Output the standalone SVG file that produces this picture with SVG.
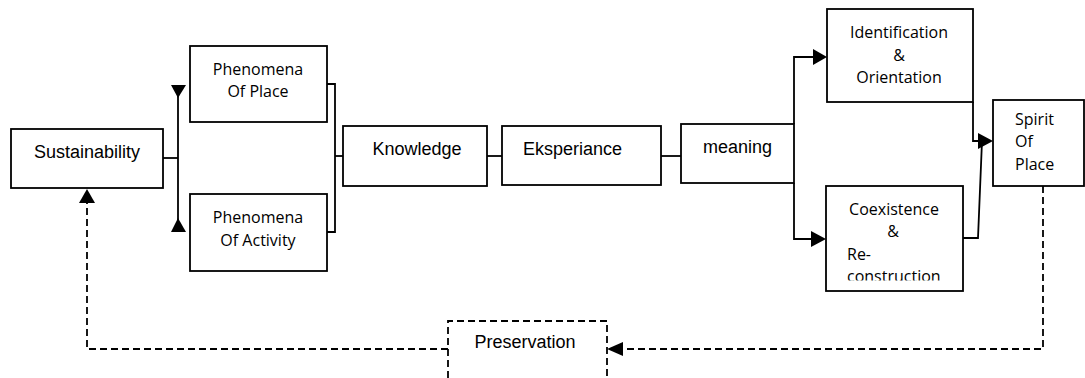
<svg xmlns="http://www.w3.org/2000/svg" width="1085" height="378" viewBox="0 0 1085 378">
<style>
.box{fill:#fff;stroke:#000;stroke-width:1.8}
.dbox{fill:none;stroke:#000;stroke-width:1.8;stroke-dasharray:7,4}
.ln{fill:none;stroke:#000;stroke-width:1.8}
.dl{fill:none;stroke:#000;stroke-width:1.8;stroke-dasharray:7,4}
.ah{fill:#000;stroke:none}
.a{font-family:"Liberation Sans",Arial,sans-serif;font-size:18px;fill:#000}
.c{font-family:"Open Sans","Noto Sans",sans-serif;font-size:16px;fill:#000}
</style>
<defs>
<clipPath id="cclip"><rect x="826" y="186" width="137" height="94.5"/></clipPath>
</defs>
<g id="connectors">
<path class="ln" d="M163,158 H178"/>
<path class="ln" d="M178,85 V232"/>
<polygon class="ah" points="171,85 186,85 178,98"/>
<polygon class="ah" points="171,232 186,232 178,218"/>
<path class="ln" d="M327,84 H335 V232 H327"/>
<path class="ln" d="M335,156 H343"/>
<path class="ln" d="M487,156 H502"/>
<path class="ln" d="M661,156 H681"/>
<path class="ln" d="M794,124 V57 H814"/>
<polygon class="ah" points="813,49 827,57 813,65"/>
<path class="ln" d="M794,183 V239 H812"/>
<polygon class="ah" points="811,231 826,239 811,247"/>
<path class="ln" d="M973,102 V141 H980"/>
<path class="ln" d="M963,238 H978 L982,141"/>
<polygon class="ah" points="978,133 993,141 978,149"/>
<path class="dl" d="M1043,186 V349 H622"/>
<polygon class="ah" points="623,342 607,349 623,356"/>
<path class="dl" d="M448,349 H87 V203"/>
<polygon class="ah" points="79,203 95,203 87,189"/>
</g>
<g id="sustainability">
<rect class="box" x="11" y="129" width="152" height="59"/>
<text class="a" x="87" y="158" text-anchor="middle">Sustainability</text>
</g>
<g id="phenomena-place">
<rect class="box" x="190" y="46" width="137" height="76"/>
<text class="c" x="258" y="75" text-anchor="middle">Phenomena</text>
<text class="c" x="258" y="97" text-anchor="middle">Of Place</text>
</g>
<g id="phenomena-activity">
<rect class="box" x="190" y="194" width="137" height="77"/>
<text class="c" x="258" y="223" text-anchor="middle">Phenomena</text>
<text class="c" x="258" y="246" text-anchor="middle">Of Activity</text>
</g>
<g id="knowledge">
<rect class="box" x="343" y="126" width="144" height="60"/>
<text class="a" x="417" y="155" text-anchor="middle">Knowledge</text>
</g>
<g id="eksperiance">
<rect class="box" x="502" y="126" width="159" height="59"/>
<text class="a" x="523" y="155">Eksperiance</text>
</g>
<g id="meaning">
<rect class="box" x="681" y="124" width="113" height="59"/>
<text class="a" x="737.5" y="153" text-anchor="middle">meaning</text>
</g>
<g id="identification">
<rect class="box" x="827" y="9" width="146" height="93"/>
<text class="c" x="899" y="38" text-anchor="middle">Identification</text>
<text class="c" x="899" y="61" text-anchor="middle">&amp;</text>
<text class="c" x="899" y="83" text-anchor="middle">Orientation</text>
</g>
<g id="coexistence">
<rect class="box" x="826" y="186" width="137" height="105"/>
<text class="c" x="894" y="215" text-anchor="middle">Coexistence</text>
<text class="c" x="893" y="237" text-anchor="middle">&amp;</text>
<text class="c" x="847" y="260">Re-</text>
<text class="c" x="847" y="282" clip-path="url(#cclip)">construction</text>
</g>
<g id="spirit">
<rect class="box" x="993" y="100" width="91" height="86"/>
<text class="c" x="1015" y="125">Spirit</text>
<text class="c" x="1015" y="147">Of</text>
<text class="c" x="1015" y="170">Place</text>
</g>
<g id="preservation">
<path class="dbox" d="M448,378 V321 H607 V378"/>
<text class="a" x="525" y="348" text-anchor="middle">Preservation</text>
</g>
</svg>
